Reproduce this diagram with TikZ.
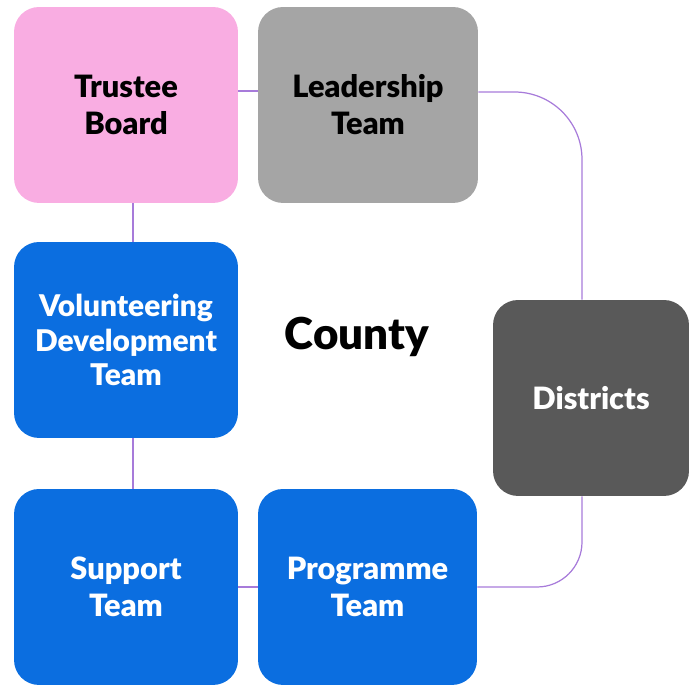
\documentclass[tikz,border=0pt]{standalone}
\usepackage{fontspec}
\setmainfont{Lato}[BoldFont={Lato Black}]
\usepackage{tikz}
\usetikzlibrary{calc}
\usetikzlibrary{positioning}

\definecolor{trusteepink}{HTML}{F9ADE2}
\definecolor{leadgrey}{HTML}{A5A5A5}
\definecolor{distgrey}{HTML}{595959}
\definecolor{teamblue}{HTML}{0B6EE0}
\definecolor{linkpurple}{HTML}{A77BDA}

\begin{document}
\begin{tikzpicture}[x=0.02cm, y=-0.02cm,
    box/.style={
      rectangle,
      rounded corners=0.5cm,
      align=center,
      font=\fontsize{17.5}{21}\selectfont\bfseries,
      minimum width=4.48cm,
      minimum height=3.92cm
    },
    link/.style={
      draw=linkpurple,
      line width=0.7pt
    }
]

\useasboundingbox (0,0) rectangle (697,688);

\node [box, fill=trusteepink] (trustee) at (126,105) {Trustee\\Board};
\node [box, fill=leadgrey, minimum width=4.4cm] (leader) at (368,105) {Leadership\\Team};
\node [box, fill=teamblue, text=white, font=\fontsize{17}{19.5}\selectfont\bfseries] (volunteer) at (126,340) {Volunteering\\Development\\Team};
\node [box, fill=distgrey, text=white, minimum width=3.92cm] (districts) at (591,398) {Districts};
\node [box, fill=teamblue, text=white] (support) at (126,587) {Support\\Team};
\node [box, fill=teamblue, text=white, minimum width=4.38cm] (programme) at (367.5,587) {Programme\\Team};

\node [font=\fontsize{25}{28}\selectfont\bfseries] (county) at (357,337) {County};

%% Links

\draw [link] ([yshift=0.28cm]trustee.east) -- ([yshift=0.28cm]leader.west);
\draw [link, rounded corners=1.35cm] ([yshift=0.26cm]leader.east) -| ([xshift=-0.18cm]districts.north);
\draw [link, rounded corners=0.9cm] ([xshift=-0.18cm]districts.south) |- (programme.east);
\draw [link] ([xshift=0.14cm]trustee.south) -- ([xshift=0.14cm]volunteer.north);
\draw [link] ([xshift=0.14cm]volunteer.south) -- ([xshift=0.14cm]support.north);
\draw [link] (support.east) -- (programme.west);

\end{tikzpicture}
\end{document}
